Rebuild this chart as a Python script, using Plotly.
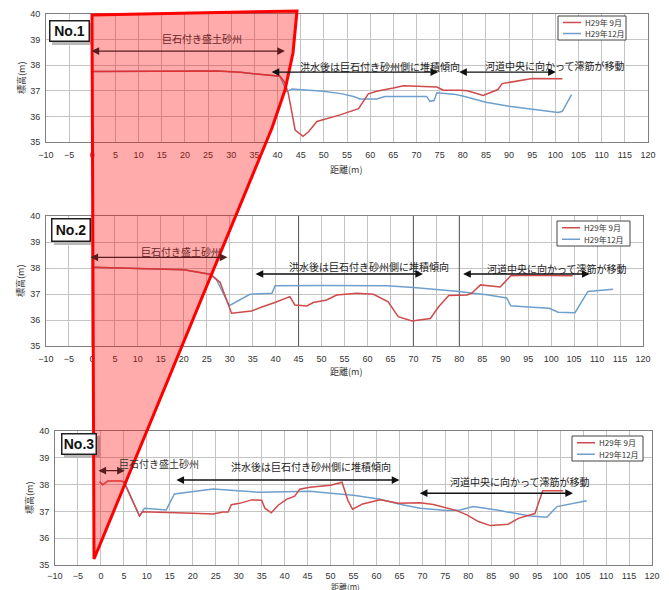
import plotly.graph_objects as go

# ---------------- data ----------------
series_names = ["H29年 9月", "H29年12月"]

# No.1
no1_sep_x = [0, 10, 20, 27, 32, 36, 40.5, 41.5, 42.3, 43.8, 45.5, 46.7, 48.5, 53.5, 55.7,
             57.5, 59.6, 61.4, 65, 67.2, 74.4, 75.8, 79.4, 81, 84.4, 86.5, 87.6, 88.5, 90, 92,
             95, 101.5]
no1_sep_y = [37.75, 37.76, 37.75, 37.77, 37.72, 37.66, 37.57, 37.35, 36.92, 35.47, 35.22, 35.4,
             35.8, 36.06, 36.18, 36.3, 36.88, 36.98, 37.11, 37.2, 37.15, 37.02, 37.02, 37.0,
             36.82, 36.98, 37.05, 37.28, 37.32, 37.38, 37.48, 37.47]
no1_dec_x = [0, 10, 20, 27, 32, 36, 40.5, 42, 43.1, 49.9, 54, 56.4, 57.8, 61.4, 63.2, 72.2,
             72.9, 73.8, 74.4, 78, 80, 85, 90, 95, 100.6, 101.5, 103.5]
no1_dec_y = [37.75, 37.76, 37.75, 37.77, 37.72, 37.66, 37.57, 36.98, 37.07, 36.98, 36.88,
             36.78, 36.68, 36.68, 36.78, 36.78, 36.59, 36.62, 36.92, 36.87, 36.8, 36.55, 36.4,
             36.28, 36.15, 36.2, 36.85]

# No.2
no2_sep_x = [0, 10, 20, 25.7, 27.9, 30.4, 34.8, 37, 40, 43.1, 44.2, 46.8, 48.2, 51.1, 53.3,
             57.7, 61.3, 64.5, 66.7, 69.7, 73.7, 75.5, 77.7, 81.7, 82.7, 84.6, 88.9, 91.2, 95,
             104.7]
no2_sep_y = [38.03, 37.98, 37.93, 37.76, 37.45, 36.26, 36.35, 36.5, 36.68, 36.9, 36.58, 36.54,
             36.67, 36.77, 36.96, 37.03, 36.99, 36.7, 36.13, 35.96, 36.06, 36.51, 36.94, 36.96,
             37.03, 37.35, 37.27, 37.7, 37.72, 37.7]
no2_dec_x = [0, 10, 20, 25.7, 27, 29.9, 34.4, 39.2, 39.9, 50, 60, 64.2, 70, 75, 80, 83, 86,
             90.3, 91.2, 95, 99.6, 101.5, 105.2, 108, 110, 113.5]
no2_dec_y = [38.03, 37.98, 37.93, 37.76, 37.6, 36.55, 36.99, 37.03, 37.32, 37.33, 37.33, 37.32,
             37.25, 37.18, 37.1, 37.03, 36.97, 36.85, 36.55, 36.5, 36.45, 36.3, 36.28, 37.1,
             37.13, 37.18]

# No.3
no3_sep_x = [-0.3, 0.4, 1.5, 4.4, 5, 8.4, 9.1, 15, 20, 24.4, 26.6, 27.7, 28.4, 30.2, 32.8, 35,
             35.7, 37.1, 38.6, 40.4, 42.2, 43.3, 45.5, 50, 52.5, 53.8, 54.8, 57, 60.8, 64.8,
             69.5, 72.4, 77.5, 79.7, 82.2, 84.8, 88.7, 90.9, 93.8, 94.5, 96.2, 100.7]
no3_sep_y = [38.11, 37.99, 38.13, 38.13, 38.1, 36.83, 36.99, 36.97, 36.93, 36.9, 36.98, 36.98,
             37.25, 37.3, 37.43, 37.42, 37.12, 36.95, 37.23, 37.45, 37.57, 37.83, 37.9, 37.98,
             38.09, 37.4, 37.08, 37.28, 37.43, 37.3, 37.32, 37.26, 37.03, 36.87, 36.62, 36.47,
             36.52, 36.74, 36.87, 36.92, 37.77, 37.77]
no3_dec_x = [5, 8.4, 9.5, 14.2, 16, 24.4, 34.6, 45.5, 50, 55, 60.8, 65.1, 69.5, 75.3, 78.2,
             81.1, 86.2, 93.5, 97.1, 99.3, 105.8]
no3_dec_y = [38.13, 36.83, 37.12, 37.05, 37.65, 37.84, 37.71, 37.75, 37.68, 37.6, 37.45, 37.27,
             37.12, 37.03, 37.05, 37.18, 37.05, 36.83, 36.78, 37.18, 37.4]

panel_labels = ["No.1", "No.2", "No.3"]
label_bar = "巨石付き盛土砂州"
label_dep = "洪水後は巨石付き砂州側に堆積傾向"
label_mov = "河道中央に向かって澪筋が移動"
x_title = "距離(m)"
y_title = "標高(m)"

# ---------------- style ----------------
PAGE_W, PAGE_H = 669, 590
OFF = 8                      # default page (body) margin of the html page
W, H = PAGE_W - OFF, PAGE_H - OFF
RED = "#cf4a4a"
BLUE = "#6f9fcc"
DARKRED = "#6b2626"
JP = "Noto Sans CJK JP"
NUM = "Liberation Sans"


def fx(p):
    return (p - OFF) / W


def fy(p):
    return 1 - (p - OFF) / H


boxes = [dict(l=46, r=648, t=14, b=142, tl=4),
         dict(l=46, r=643, t=216, b=346, tl=4),
         dict(l=55, r=652, t=431, b=565, tl=2)]

data = [(no1_sep_x, no1_sep_y, no1_dec_x, no1_dec_y),
        (no2_sep_x, no2_sep_y, no2_dec_x, no2_dec_y),
        (no3_sep_x, no3_sep_y, no3_dec_x, no3_dec_y)]

fig = go.Figure()
layout = dict(width=W, height=H, autosize=False, margin=dict(l=0, r=0, t=0, b=0, pad=0),
              paper_bgcolor="white", plot_bgcolor="white", showlegend=False,
              template="none")

for i, (sx, sy, dx, dy) in enumerate(data):
    s = "" if i == 0 else str(i + 1)
    fig.add_trace(go.Scatter(x=dx, y=dy, mode="lines", name=series_names[1],
                             line=dict(color=BLUE, width=1.5), xaxis="x" + s, yaxis="y" + s))
    fig.add_trace(go.Scatter(x=sx, y=sy, mode="lines", name=series_names[0],
                             line=dict(color=RED, width=1.5), xaxis="x" + s, yaxis="y" + s))
    b = boxes[i]
    layout["xaxis" + s] = dict(domain=[fx(b["l"]), fx(b["r"])], range=[-10, 120], dtick=5,
                               tick0=0, showgrid=True, gridcolor="#c4c4c4", gridwidth=1,
                               showline=True, linecolor="#808080", mirror=True, zeroline=False,
                               ticks="outside", ticklen=b["tl"], tickcolor="rgba(0,0,0,0)",
                               tickfont=dict(size=9, color="#333", family=NUM),
                               anchor="y" + s, fixedrange=True, automargin=False)
    layout["yaxis" + s] = dict(domain=[fy(b["b"]), fy(b["t"])], range=[35, 40], dtick=1,
                               showgrid=True, gridcolor="#c4c4c4", gridwidth=1,
                               showline=True, linecolor="#808080", mirror=True, zeroline=False,
                               ticks="outside", ticklen=3, tickcolor="rgba(0,0,0,0)",
                               tickfont=dict(size=9, color="#333", family=NUM),
                               anchor="x" + s, fixedrange=True, automargin=False)

fig.update_layout(**layout)

ann = []
shapes = []

# axis titles
ytitle_pos = [(21, 78), (20, 281), (29, 498)]
xtitle_pos = [(346, 169, 9), (346, 371, 9), (345, 586, 8)]
for i in range(3):
    ann.append(dict(text=y_title, x=fx(ytitle_pos[i][0]), y=fy(ytitle_pos[i][1]),
                    xref="paper", yref="paper", showarrow=False, textangle=-90,
                    xanchor="center", yanchor="middle",
                    font=dict(size=9, family=JP, color="#333")))
    ann.append(dict(text=x_title, x=fx(xtitle_pos[i][0]), y=fy(xtitle_pos[i][1]),
                    xref="paper", yref="paper", showarrow=False,
                    xanchor="center", yanchor="middle",
                    font=dict(size=xtitle_pos[i][2], family=JP, color="#333")))

# No. boxes with drop shadow
no_boxes = [(49, 20, 90, 42), (51, 218, 91, 242), (61, 433, 97, 455)]
for i, (x0, y0, x1, y1) in enumerate(no_boxes):
    shapes.append(dict(type="rect", xref="paper", yref="paper", x0=fx(x0 + 3), x1=fx(x1 + 3),
                       y0=fy(y1 + 3), y1=fy(y0 + 3), fillcolor="#b8b8b8", line=dict(width=0),
                       layer="above"))
    ann.append(dict(text="<b>" + panel_labels[i] + "</b>", x=fx((x0 + x1) / 2),
                    y=fy((y0 + y1) / 2), xref="paper", yref="paper", showarrow=False,
                    xanchor="center", yanchor="middle",
                    width=x1 - x0 - 3, height=y1 - y0 - 3, bgcolor="white",
                    bordercolor="#222", borderwidth=1.5, borderpad=0,
                    font=dict(size=14, family=NUM, color="#111")))

# manual compact legends
legend_boxes = [(558, 16, 626, 40), (557, 221, 630, 246), (572, 436, 643, 461)]
for (x0, y0, x1, y1) in legend_boxes:
    shapes.append(dict(type="rect", xref="paper", yref="paper", x0=fx(x0), x1=fx(x1),
                       y0=fy(y1), y1=fy(y0), fillcolor="white",
                       line=dict(color="#444", width=1), layer="above"))
    rows = [y0 + (y1 - y0) * 0.27, y0 + (y1 - y0) * 0.73]
    for name, col, yy in [(series_names[0], RED, rows[0]), (series_names[1], BLUE, rows[1])]:
        shapes.append(dict(type="line", xref="paper", yref="paper", x0=fx(x0 + 5),
                           x1=fx(x0 + 23), y0=fy(yy), y1=fy(yy),
                           line=dict(color=col, width=1.5), layer="above"))
        ann.append(dict(text=name, x=fx(x0 + 25), y=fy(yy), xref="paper", yref="paper",
                        showarrow=False, xanchor="left", yanchor="middle",
                        font=dict(size=8, family=JP, color="#333")))

# text labels and arrows per panel
texts = [
    [(label_bar, 23.6, 39.05, DARKRED), (label_dep, 62.2, 37.95, "#222"),
     (label_mov, 100.0, 37.99, "#222")],
    [(label_bar, 19.3, 38.63, DARKRED), (label_dep, 60.3, 38.06, "#222"),
     (label_mov, 101.3, 38.0, "#222")],
    [(label_bar, 12.6, 38.79, "#333"), (label_dep, 45.7, 38.67, "#222"),
     (label_mov, 91.3, 38.11, "#222")],
]
arrows = [
    [(-0.5, 41.6, 38.55, "#5a1d1d"), (38.4, 74.7, 37.73, "#111"), (78.9, 100.1, 37.73, "#111")],
    [(-0.65, 29.5, 38.41, "#5a1d1d"), (35.3, 72.1, 37.77, "#111"), (80.5, 108.4, 37.77, "#111")],
    [(-0.87, 5.2, 38.52, "#5a1d1d"), (16.1, 65.0, 38.17, "#111"), (69.1, 102.8, 37.68, "#111")],
]
for i in range(3):
    s = "" if i == 0 else str(i + 1)
    for t, x, y, c in texts[i]:
        ann.append(dict(text=t, x=x, y=y, xref="x" + s, yref="y" + s, showarrow=False,
                        xanchor="center", yanchor="middle",
                        font=dict(size=10, family=JP, color=c)))
    for xa, xb, y, c in arrows[i]:
        ann.append(dict(text="", x=xb, y=y, ax=xa, ay=y, xref="x" + s, yref="y" + s,
                        axref="x" + s, ayref="y" + s, showarrow=True, arrowhead=2,
                        startarrowhead=2, arrowside="end+start", arrowsize=1.1,
                        startarrowsize=1.1, arrowwidth=1.4, arrowcolor=c, standoff=0,
                        startstandoff=0))

# darker vertical lines seen in panel 2
for xv in [45, 70, 80]:
    shapes.append(dict(type="line", xref="x2", yref="y2", x0=xv, x1=xv, y0=35, y1=40,
                       line=dict(color="#555", width=1), layer="between"))

# big red translucent polygon
pts = [(92, 15), (297, 11), (293, 53), (285, 90), (272, 128), (94, 559)]
path = "M " + " L ".join(f"{fx(a):.5f},{fy(b):.5f}" for a, b in pts) + " Z"
shapes.append(dict(type="path", xref="paper", yref="paper", path=path,
                   fillcolor="rgba(255,0,0,0.33)", line=dict(color="#ff0000", width=3),
                   layer="above"))

fig.update_layout(annotations=ann, shapes=shapes)
fig.write_html("out.html")
